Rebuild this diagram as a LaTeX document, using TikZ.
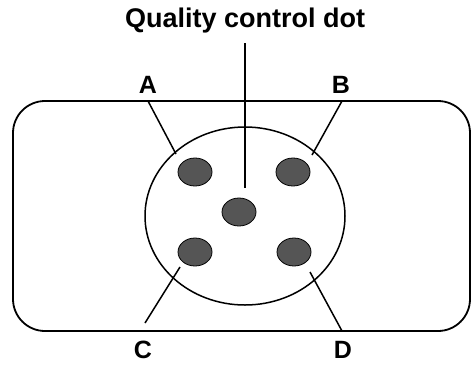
\documentclass[tikz,border=0pt]{standalone}
\usepackage{fontspec}
\setmainfont{Liberation Sans}
\usetikzlibrary{shapes.geometric}
\definecolor{dotgray}{RGB}{85,85,85}
\begin{document}
\begin{tikzpicture}[x=1pt,y=-1pt,
  dot/.style={ellipse,draw=black,line width=0.8pt,fill=dotgray,minimum width=34pt,minimum height=28pt,inner sep=0pt},
  lbl/.style={font=\fontsize{25}{25}\selectfont\bfseries,anchor=base,inner sep=0pt},
  ttl/.style={font=\fontsize{27}{27}\selectfont\bfseries,anchor=base,inner sep=0pt},
  ln/.style={line width=1.5pt},
  frame/.style={line width=1.8pt,rounded corners=32pt}]
\useasboundingbox (0,0) rectangle (471,365);
\clip (0,0) rectangle (471,365);
% frame
\draw[frame] (13,101) rectangle (470,331);
% big circle
\draw[ln] (245,216) ellipse [x radius=100, y radius=89];
% dots
\node[dot] (tl) at (195,172) {};
\node[dot] (tr) at (293,172) {};
\node[dot] (cc) at (239,212) {};
\node[dot] (bl) at (195,252) {};
\node[dot] (br) at (294,252) {};
% title and labels
\node[ttl] (title) at (245,27) {Quality control dot};
\node[lbl] (A) at (148,93) {A};
\node[lbl] (B) at (341,93) {B};
\node[lbl] (C) at (143,358) {C};
\node[lbl] (D) at (343,358) {D};
% leader coordinates
\coordinate (qtop) at (245,43);
\coordinate (qend) at (245,188);
\coordinate (a0) at (148,101);
\coordinate (a1) at (176,154);
\coordinate (b0) at (342,101);
\coordinate (b1) at (312,155);
\coordinate (c0) at (145,323);
\coordinate (c1) at (180,267);
\coordinate (d0) at (342,331);
\coordinate (d1) at (310,272);
\draw[ln] (qtop) -- (qend);
\draw[ln] (a0) -- (a1);
\draw[ln] (b0) -- (b1);
\draw[ln] (c0) -- (c1);
\draw[ln] (d0) -- (d1);
\end{tikzpicture}
\end{document}
